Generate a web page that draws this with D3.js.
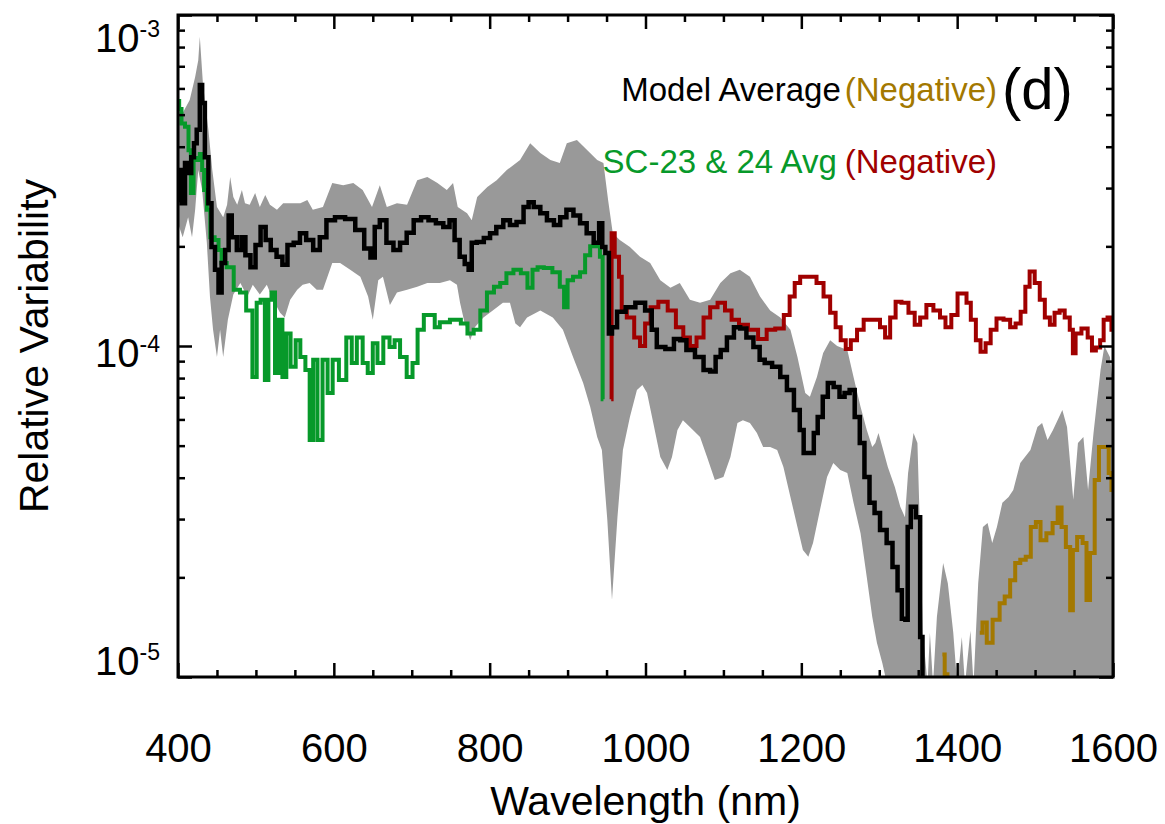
<!DOCTYPE html>
<html><head><meta charset="utf-8">
<script src="https://cdn.jsdelivr.net/npm/d3@7"></script>
<style>
html,body{margin:0;padding:0;background:#fff;}
svg{display:block;font-family:"Liberation Sans",Arial,Helvetica,sans-serif;}
</style></head><body>
<svg id="chart" width="1165" height="824"></svg>
<script>
// ---------- data (wavelength nm, relative variability) ----------
const xMajorTicks = [400, 600, 800, 1000, 1200, 1400, 1600];
const xMinorTicks = [450, 500, 550, 650, 700, 750, 850, 900, 950, 1050, 1100, 1150, 1250, 1300, 1350, 1450, 1500, 1550];
const yMajorTicks = [1e-5, 1e-4, 1e-3];
const yMinorTicks = [2e-5, 3e-5, 4e-5, 5e-5, 6e-5, 7e-5, 8e-5, 9e-5, 2e-4, 3e-4, 4e-4, 5e-4, 6e-4, 7e-4, 8e-4, 9e-4];
const yTickExponents = ["-5", "-4", "-3"];

const bandUpper = [[400,5.27e-4],[406,5.06e-4],[415,5.54e-4],[422,6.5e-4],[426,7.3e-4],[428,8.6e-4],[432,6.2e-4],[439,4.5e-4],[444,3.4e-4],[450,2.63e-4],[458,2.45e-4],[463,2.67e-4],[467,3.24e-4],[471,2.82e-4],[476,2.67e-4],[482,2.96e-4],[486,2.70e-4],[492,2.67e-4],[499,2.90e-4],[505,2.63e-4],[512,2.86e-4],[518,2.67e-4],[527,2.58e-4],[535,2.70e-4],[544,2.70e-4],[557,2.70e-4],[566,2.76e-4],[573,2.58e-4],[586,2.63e-4],[598,3.11e-4],[612,3.06e-4],[625,3.11e-4],[637,2.96e-4],[649,2.63e-4],[659,3.06e-4],[668,2.63e-4],[681,2.70e-4],[694,2.67e-4],[707,3.17e-4],[720,3.24e-4],[733,3.11e-4],[745,2.96e-4],[753,3.11e-4],[759,2.63e-4],[771,2.52e-4],[777,2.40e-4],[784,2.82e-4],[797,3.02e-4],[809,3.17e-4],[822,3.40e-4],[839,3.65e-4],[852,4.10e-4],[865,3.83e-4],[878,3.65e-4],[890,3.57e-4],[899,4.10e-4],[912,4.19e-4],[925,3.91e-4],[938,3.65e-4],[946,3.57e-4],[952,2.76e-4],[958,2.19e-4],[967,2.09e-4],[980,1.99e-4],[993,1.86e-4],[1006,1.78e-4],[1019,1.58e-4],[1032,1.50e-4],[1044,1.55e-4],[1057,1.38e-4],[1070,1.35e-4],[1083,1.38e-4],[1096,1.55e-4],[1109,1.66e-4],[1121,1.70e-4],[1134,1.62e-4],[1147,1.41e-4],[1160,1.28e-4],[1173,1.22e-4],[1186,1.12e-4],[1195,9.27e-5],[1205,7.21e-5],[1211,7.02e-5],[1220,8.06e-5],[1228,9.52e-5],[1237,1.04e-4],[1246,1.0e-4],[1259,9.72e-5],[1267,8.06e-5],[1276,6.55e-5],[1284,5.57e-5],[1291,4.95e-5],[1295,5.09e-5],[1299,5.46e-5],[1304,4.95e-5],[1311,4.31e-5],[1320,3.75e-5],[1327,3.27e-5],[1333,3.04e-5],[1337,4.13e-5],[1344,5.46e-5],[1349,5.09e-5],[1353,2.42e-5],[1356,1.36e-5],[1362,9.5e-6],[1365,1.36e-5],[1369,9.5e-6],[1374,1.52e-5],[1382,2.21e-5],[1388,1.92e-5],[1395,1.36e-5],[1400,9.5e-6],[1406,1.32e-5],[1410,9.5e-6],[1417,1.38e-5],[1421,9.5e-6],[1427,1.92e-5],[1433,2.84e-5],[1439,2.92e-5],[1445,2.54e-5],[1451,2.84e-5],[1458,3.36e-5],[1466,3.50e-5],[1472,3.67e-5],[1481,4.43e-5],[1494,4.85e-5],[1503,5.69e-5],[1509,5.85e-5],[1516,5.20e-5],[1523,5.57e-5],[1535,6.41e-5],[1541,5.69e-5],[1549,3.43e-5],[1555,5.09e-5],[1562,5.31e-5],[1568,3.67e-5],[1575,5.46e-5],[1584,8.46e-5],[1589,1.0e-4],[1596,9.27e-5],[1600,7.73e-5]];

const bandLower = [[400,2.35e-4],[406,2.13e-4],[413,2.45e-4],[418,2.13e-4],[422,2.58e-4],[426,3.40e-4],[431,2.96e-4],[437,2.05e-4],[441,1.41e-4],[445,1.12e-4],[450,9.27e-5],[454,1.12e-4],[458,9.27e-5],[464,1.20e-4],[471,1.43e-4],[480,1.55e-4],[489,1.41e-4],[496,1.53e-4],[505,1.43e-4],[514,1.53e-4],[522,1.38e-4],[531,1.26e-4],[537,1.22e-4],[544,1.38e-4],[553,1.48e-4],[560,1.53e-4],[569,1.55e-4],[578,1.48e-4],[586,1.48e-4],[598,1.78e-4],[608,1.78e-4],[621,1.70e-4],[634,1.62e-4],[644,1.41e-4],[650,1.20e-4],[657,1.58e-4],[663,1.62e-4],[672,1.33e-4],[681,1.45e-4],[694,1.48e-4],[707,1.51e-4],[720,1.55e-4],[736,1.55e-4],[749,1.58e-4],[758,1.53e-4],[762,1.35e-4],[768,1.17e-4],[775,1.04e-4],[781,1.14e-4],[792,1.22e-4],[804,1.28e-4],[817,1.35e-4],[826,1.35e-4],[833,1.17e-4],[839,1.14e-4],[848,1.22e-4],[865,1.28e-4],[881,1.22e-4],[894,1.12e-4],[907,9.27e-5],[920,7.73e-5],[929,6.55e-5],[938,5.31e-5],[944,4.85e-5],[951,2.98e-5],[957,1.71e-5],[964,3.04e-5],[971,4.85e-5],[980,6.10e-5],[989,7.36e-5],[996,7.62e-5],[1002,7.21e-5],[1010,5.85e-5],[1019,4.62e-5],[1028,4.22e-5],[1034,4.62e-5],[1041,5.57e-5],[1048,5.97e-5],[1057,5.69e-5],[1070,5.31e-5],[1079,4.62e-5],[1089,3.94e-5],[1100,4.02e-5],[1109,4.62e-5],[1118,5.85e-5],[1125,5.97e-5],[1134,5.85e-5],[1143,5.46e-5],[1151,4.95e-5],[1160,4.95e-5],[1169,4.85e-5],[1177,4.31e-5],[1186,3.50e-5],[1195,2.84e-5],[1202,2.42e-5],[1209,2.31e-5],[1215,2.54e-5],[1224,3.20e-5],[1233,4.02e-5],[1241,4.43e-5],[1250,4.22e-5],[1259,4.13e-5],[1267,3.36e-5],[1276,2.72e-5],[1284,2.0e-5],[1291,1.52e-5],[1297,1.27e-5],[1304,1.10e-5],[1308,1.0e-5],[1312,8e-6],[1600,8e-6]];

const modelAverage = [[400,2.76e-4],[403,3.40e-4],[406,2.70e-4],[412,3.57e-4],[415,3.33e-4],[419,3.72e-4],[422,4.10e-4],[426,4.50e-4],[430,6.14e-4],[432,5.42e-4],[437,3.72e-4],[441,2.70e-4],[445,1.99e-4],[450,1.70e-4],[454,1.45e-4],[458,1.78e-4],[463,1.95e-4],[467,2.48e-4],[471,2.13e-4],[480,1.95e-4],[483,2.13e-4],[490,1.88e-4],[496,1.73e-4],[503,2.02e-4],[509,2.29e-4],[516,2.09e-4],[522,1.95e-4],[531,1.86e-4],[537,1.76e-4],[544,2.02e-4],[553,2.05e-4],[560,2.19e-4],[569,2.09e-4],[578,1.95e-4],[586,2.13e-4],[595,2.40e-4],[608,2.45e-4],[621,2.42e-4],[634,2.24e-4],[644,1.97e-4],[650,1.85e-4],[655,2.29e-4],[663,2.40e-4],[672,2.05e-4],[681,1.95e-4],[689,2.05e-4],[698,2.20e-4],[707,2.40e-4],[717,2.45e-4],[726,2.40e-4],[736,2.35e-4],[745,2.29e-4],[752,2.40e-4],[758,2.09e-4],[765,1.86e-4],[771,1.77e-4],[775,1.70e-4],[779,2.05e-4],[788,2.06e-4],[797,2.12e-4],[804,2.19e-4],[813,2.29e-4],[822,2.40e-4],[830,2.32e-4],[839,2.37e-4],[848,2.63e-4],[852,2.72e-4],[861,2.63e-4],[869,2.52e-4],[878,2.40e-4],[887,2.32e-4],[894,2.45e-4],[903,2.58e-4],[912,2.48e-4],[920,2.35e-4],[929,2.19e-4],[938,2.05e-4],[943,2.35e-4],[946,1.99e-4],[951,1.91e-4],[955,1.09e-4],[959,1.14e-4],[968,1.27e-4],[981,1.31e-4],[993,1.35e-4],[1006,1.28e-4],[1010,1.12e-4],[1019,9.93e-5],[1032,9.8e-5],[1041,1.05e-4],[1048,1.04e-4],[1057,9.72e-5],[1070,9.27e-5],[1079,8.46e-5],[1087,8.38e-5],[1093,9.27e-5],[1100,9.72e-5],[1109,1.06e-4],[1118,1.14e-4],[1125,1.13e-4],[1134,1.06e-4],[1143,9.93e-5],[1150,9.08e-5],[1156,8.89e-5],[1169,8.65e-5],[1177,8.06e-5],[1186,7.36e-5],[1195,6.41e-5],[1201,5.57e-5],[1205,4.75e-5],[1214,4.75e-5],[1218,5.46e-5],[1224,6.10e-5],[1231,7.02e-5],[1237,7.73e-5],[1246,7.52e-5],[1252,7.02e-5],[1259,7.21e-5],[1265,7.36e-5],[1272,6.10e-5],[1278,5.09e-5],[1284,4.02e-5],[1291,3.36e-5],[1297,3.13e-5],[1305,2.78e-5],[1314,2.54e-5],[1320,2.15e-5],[1327,1.83e-5],[1331,1.50e-5],[1336,1.49e-5],[1337,2.84e-5],[1344,3.27e-5],[1350,3.04e-5],[1355,1.32e-5],[1356,9.0e-6]];

const modelAverageNegative = [
  [[1381,1.17e-5],[1387,1.02e-5],[1388,9.0e-6]],
  [[1429,1.36e-5],[1436,1.46e-5],[1440,1.27e-5],[1451,1.49e-5],[1458,1.67e-5],[1464,1.75e-5],[1472,1.96e-5],[1477,2.21e-5],[1485,2.26e-5],[1491,2.31e-5],[1498,2.84e-5],[1504,2.94e-5],[1510,2.59e-5],[1519,2.72e-5],[1526,2.92e-5],[1532,3.25e-5],[1536,2.84e-5],[1543,2.47e-5],[1547,1.59e-5],[1550,2.42e-5],[1558,2.65e-5],[1564,2.54e-5],[1568,1.71e-5],[1573,2.37e-5],[1580,3.94e-5],[1584,4.95e-5],[1593,4.95e-5],[1596,4.13e-5],[1600,3.67e-5]]
];

const scAverage = [[400,5.5e-4],[403,5.2e-4],[406,4.7e-4],[412,4.6e-4],[415,3.9e-4],[418,2.9e-4],[422,3.7e-4],[426,3.65e-4],[430,3.8e-4],[432,3.4e-4],[435,2.96e-4],[439,2.58e-4],[444,2.13e-4],[450,2.09e-4],[454,1.95e-4],[458,1.78e-4],[467,1.73e-4],[476,1.48e-4],[483,1.45e-4],[492,1.28e-4],[499,8.06e-5],[503,1.35e-4],[509,1.38e-4],[514,7.89e-5],[518,1.38e-4],[522,1.45e-4],[527,8.29e-5],[531,1.20e-4],[537,8.06e-5],[541,1.09e-4],[548,8.65e-5],[554,1.04e-4],[560,9.27e-5],[567,8.46e-5],[571,5.2e-5],[576,9.08e-5],[582,5.2e-5],[589,9.08e-5],[595,7.21e-5],[602,9.08e-5],[611,7.89e-5],[621,1.06e-4],[625,8.89e-5],[634,1.06e-4],[640,8.89e-5],[647,8.29e-5],[653,1.02e-4],[659,8.89e-5],[668,1.06e-4],[675,9.93e-5],[681,1.04e-4],[689,9.27e-5],[698,8.06e-5],[704,8.89e-5],[711,1.12e-4],[720,1.24e-4],[727,1.24e-4],[732,1.14e-4],[740,1.18e-4],[758,1.20e-4],[768,1.17e-4],[775,1.09e-4],[784,1.12e-4],[792,1.28e-4],[801,1.45e-4],[810,1.51e-4],[817,1.55e-4],[826,1.66e-4],[835,1.70e-4],[845,1.66e-4],[852,1.50e-4],[858,1.70e-4],[865,1.73e-4],[874,1.72e-4],[887,1.67e-4],[893,1.51e-4],[898,1.31e-4],[902,1.58e-4],[912,1.62e-4],[920,1.67e-4],[925,1.88e-4],[933,2.0e-4],[939,2.0e-4],[944,1.86e-4],[946,6.9e-5]];

const scAverageNegative = [[956,6.9e-5],[957,2.19e-4],[964,1.86e-4],[968,1.62e-4],[971,1.28e-4],[981,1.22e-4],[990,1.06e-4],[996,1.0e-4],[1003,1.17e-4],[1010,1.31e-4],[1023,1.36e-4],[1034,1.28e-4],[1044,1.14e-4],[1053,1.06e-4],[1061,1.0e-4],[1070,1.06e-4],[1079,1.22e-4],[1087,1.31e-4],[1098,1.35e-4],[1106,1.28e-4],[1115,1.20e-4],[1125,1.16e-4],[1138,1.12e-4],[1151,1.05e-4],[1160,1.12e-4],[1173,1.13e-4],[1182,1.24e-4],[1188,1.41e-4],[1195,1.55e-4],[1202,1.62e-4],[1215,1.62e-4],[1224,1.55e-4],[1233,1.41e-4],[1241,1.26e-4],[1247,1.14e-4],[1254,1.04e-4],[1260,9.8e-5],[1267,1.04e-4],[1276,1.12e-4],[1284,1.20e-4],[1297,1.20e-4],[1305,1.14e-4],[1310,1.06e-4],[1318,1.22e-4],[1324,1.36e-4],[1333,1.35e-4],[1342,1.26e-4],[1349,1.16e-4],[1356,1.22e-4],[1365,1.33e-4],[1374,1.28e-4],[1382,1.22e-4],[1388,1.14e-4],[1397,1.24e-4],[1404,1.44e-4],[1410,1.44e-4],[1414,1.35e-4],[1421,1.20e-4],[1427,1.04e-4],[1433,9.6e-5],[1440,1.02e-4],[1446,1.12e-4],[1455,1.21e-4],[1464,1.20e-4],[1472,1.14e-4],[1478,1.17e-4],[1485,1.27e-4],[1490,1.51e-4],[1496,1.68e-4],[1503,1.55e-4],[1509,1.38e-4],[1516,1.22e-4],[1522,1.16e-4],[1528,1.26e-4],[1535,1.28e-4],[1541,1.22e-4],[1548,1.12e-4],[1549,9.5e-5],[1555,1.09e-4],[1564,1.13e-4],[1571,1.06e-4],[1575,9.7e-5],[1581,9.9e-5],[1586,1.04e-4],[1590,1.20e-4],[1596,1.22e-4],[1600,1.12e-4]];

// ---------- layout ----------
const L = 178, R = 1113, T = 15, B = 677;
const svg = d3.select("#chart");
const x = d3.scaleLinear().domain([400, 1600]).range([L, R]);
const y = d3.scaleLog().domain([1e-5, 1e-3]).range([B, T]);

const COL = {band: "#999999", black: "#000000", green: "#07992A", red: "#A00000", gold: "#A37800"};

svg.append("defs").append("clipPath").attr("id", "plotclip")
  .append("rect").attr("x", L).attr("y", T).attr("width", R - L).attr("height", B - T);

const plot = svg.append("g").attr("clip-path", "url(#plotclip)");

const lin = d3.line().x(d => x(d[0])).y(d => y(d[1]));
plot.append("path")
  .attr("d", lin(bandUpper.concat(bandLower.slice().reverse())) + "Z")
  .attr("fill", COL.band).attr("stroke", "none");

const step = d3.line().x(d => x(d[0])).y(d => y(d[1])).curve(d3.curveStep);
function drawLine(data, color, w) {
  plot.append("path").attr("d", step(data)).attr("fill", "none")
    .attr("stroke", color).attr("stroke-width", w)
    .attr("stroke-linejoin", "miter").attr("stroke-linecap", "butt");
}
drawLine(scAverage, COL.green, 4);
drawLine(scAverageNegative, COL.red, 4);
drawLine(modelAverage, COL.black, 4.5);
modelAverageNegative.forEach(seg => drawLine(seg, COL.gold, 4));

// ---------- axes ----------
function styleAxis(g) {
  g.selectAll("path.domain").remove();
  g.selectAll(".tick line").attr("stroke", "#000").attr("stroke-width", 2.5);
}
// bottom
svg.append("g").attr("transform", `translate(0,${B})`)
  .call(d3.axisBottom(x).tickValues(xMajorTicks).tickSizeInner(-14).tickSizeOuter(0).tickPadding(57).tickFormat(d3.format("d")))
  .call(styleAxis)
  .call(g => g.selectAll("text").attr("font-size", 40).attr("fill", "#000").attr("font-family", "Liberation Sans, Arial, sans-serif"));
svg.append("g").attr("transform", `translate(0,${B})`)
  .call(d3.axisBottom(x).tickValues(xMinorTicks).tickSizeInner(-7).tickSizeOuter(0).tickFormat(""))
  .call(styleAxis);
// top
svg.append("g").attr("transform", `translate(0,${T})`)
  .call(d3.axisTop(x).tickValues(xMajorTicks).tickSizeInner(-14).tickSizeOuter(0).tickFormat(""))
  .call(styleAxis);
svg.append("g").attr("transform", `translate(0,${T})`)
  .call(d3.axisTop(x).tickValues(xMinorTicks).tickSizeInner(-7).tickSizeOuter(0).tickFormat(""))
  .call(styleAxis);
// left
svg.append("g").attr("transform", `translate(${L},0)`)
  .call(d3.axisLeft(y).tickValues(yMajorTicks).tickSizeInner(-14).tickSizeOuter(0).tickFormat(""))
  .call(styleAxis);
svg.append("g").attr("transform", `translate(${L},0)`)
  .call(d3.axisLeft(y).tickValues(yMinorTicks).tickSizeInner(-7).tickSizeOuter(0).tickFormat(""))
  .call(styleAxis);
// right
svg.append("g").attr("transform", `translate(${R},0)`)
  .call(d3.axisRight(y).tickValues(yMajorTicks).tickSizeInner(-14).tickSizeOuter(0).tickFormat(""))
  .call(styleAxis);
svg.append("g").attr("transform", `translate(${R},0)`)
  .call(d3.axisRight(y).tickValues(yMinorTicks).tickSizeInner(-7).tickSizeOuter(0).tickFormat(""))
  .call(styleAxis);

// frame
svg.append("rect").attr("x", L).attr("y", T).attr("width", R - L).attr("height", B - T)
  .attr("fill", "none").attr("stroke", "#000").attr("stroke-width", 3);

// y tick labels 10^n
const yLabelShift = [-2, 21, 37];
yMajorTicks.forEach((v, i) => {
  const t = svg.append("text").attr("x", L - 18).attr("y", y(v) + yLabelShift[i])
    .attr("text-anchor", "end").attr("fill", "#000");
  t.append("tspan").attr("font-size", 40).text("10");
  t.append("tspan").attr("font-size", 23).attr("dy", -15).text(yTickExponents[i]);
});

// axis titles
svg.append("text").attr("x", (L + R) / 2).attr("y", 815).attr("text-anchor", "middle")
  .attr("font-size", 41).attr("fill", "#000").text("Wavelength (nm)");
svg.append("text").attr("transform", `translate(48,${(T + B) / 2}) rotate(-90)`)
  .attr("text-anchor", "middle").attr("font-size", 41).attr("fill", "#000").text("Relative Variability");

// legend text
const lg1 = svg.append("text").attr("x", 997).attr("y", 101).attr("text-anchor", "end").attr("font-size", 33);
lg1.append("tspan").attr("fill", "#000").text("Model Average");
lg1.append("tspan").attr("fill", COL.gold).attr("dx", 4).text("(Negative)");
svg.append("text").attr("x", 1002).attr("y", 109).attr("font-size", 58).attr("fill", "#000").text("(d)");
const lg2 = svg.append("text").attr("x", 997).attr("y", 173).attr("text-anchor", "end").attr("font-size", 33);
lg2.append("tspan").attr("fill", COL.green).text("SC-23 & 24 Avg");
lg2.append("tspan").attr("fill", COL.red).attr("dx", 8).text("(Negative)");
</script>
</body></html>
